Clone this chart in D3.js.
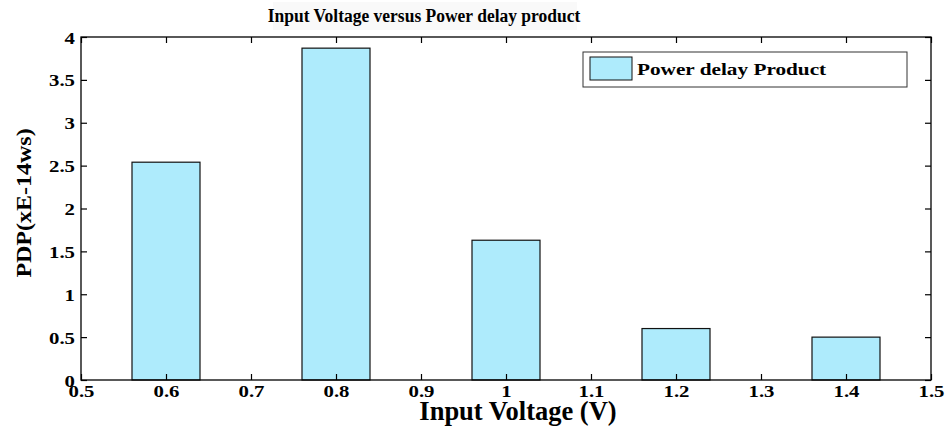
<!DOCTYPE html>
<html><head><meta charset="utf-8">
<script src="https://cdn.jsdelivr.net/npm/d3@7"></script>
<style>body{margin:0;background:#fff}svg{display:block}text{font-family:"Liberation Serif","Times New Roman",serif;font-weight:bold}</style>
</head><body><svg id="c" width="948" height="434"></svg>
<script>
const categories = [0.6, 0.8, 1.0, 1.2, 1.4];
const pdpValues = [2.54, 3.87, 1.63, 0.60, 0.50];
const xTicks = [0.5, 0.6, 0.7, 0.8, 0.9, 1, 1.1, 1.2, 1.3, 1.4, 1.5];
const yTicks = [0, 0.5, 1, 1.5, 2, 2.5, 3, 3.5, 4];
const seriesName = "Power delay Product";
const title = "Input Voltage versus Power delay product";

const svg = d3.select("#c");
const L = 81, R = 931, T = 37, B = 380;
const x = d3.scaleLinear().domain([0.5, 1.5]).range([L, R]);
const y = d3.scaleLinear().domain([0, 4]).range([B, T]);
const barW = 0.08;
const fill = "#aeebfc";

// bars
svg.append("g").selectAll("rect").data(categories).join("rect")
  .attr("x", d => x(d - barW/2)).attr("width", d => x(d + barW/2) - x(d - barW/2))
  .attr("y", (d,i) => y(pdpValues[i])).attr("height", (d,i) => y(0) - y(pdpValues[i]))
  .attr("fill", fill).attr("stroke", "#111").attr("stroke-width", 1.2);

// axes
const fmt = d => String(d);
const ax = (g, axis) => { g.call(axis); g.select(".domain").remove(); g.selectAll(".tick line").attr("stroke","#000").attr("stroke-width",1.2); };
svg.append("g").attr("transform", `translate(0,${B})`)
  .call(g => ax(g, d3.axisBottom(x).tickValues(xTicks).tickFormat(fmt).tickSizeInner(-6)))
  .selectAll("text").attr("font-size", 16).attr("fill","#000")
  .attr("y", 17).attr("dy", 0).attr("transform", "scale(1.3,1)");
svg.append("g").attr("transform", `translate(0,${T})`).call(g => ax(g, d3.axisTop(x).tickValues(xTicks).tickFormat("").tickSizeInner(-6)));
svg.append("g").attr("transform", `translate(${L},0)`)
  .call(g => ax(g, d3.axisLeft(y).tickValues(yTicks).tickFormat(fmt).tickSizeInner(-6)))
  .selectAll("text").attr("font-size", 16).attr("fill","#000")
  .attr("x", -6/1.3).attr("y", 6).attr("dy", 0).attr("transform", "scale(1.3,1)");
svg.append("g").attr("transform", `translate(${R},0)`).call(g => ax(g, d3.axisRight(y).tickValues(yTicks).tickFormat("").tickSizeInner(-6)));

// frame
svg.append("rect").attr("x", L).attr("y", T).attr("width", R-L).attr("height", B-T)
  .attr("fill","none").attr("stroke","#000").attr("stroke-width",1.3);

// legend
const lg = svg.append("g");
lg.append("rect").attr("x", 583).attr("y", 52).attr("width", 324).attr("height", 35)
  .attr("fill","#fff").attr("stroke","#333").attr("stroke-width",1);
lg.append("rect").attr("x", 590).attr("y", 57).attr("width", 42).attr("height", 23)
  .attr("fill",fill).attr("stroke","#111").attr("stroke-width",1);
lg.append("text").attr("transform", "translate(637,75) scale(1.25,1)").attr("font-size", 17).text(seriesName);

// title
svg.append("rect").attr("x", 273).attr("y", 2).attr("width", 304).attr("height", 28).attr("fill","#f9f9f9");
svg.append("text").attr("transform", "translate(424,22) scale(1,1.1)").attr("text-anchor","middle").attr("font-size", 17.5).text(title);

// axis labels
svg.append("text").attr("x", 518).attr("y", 420).attr("text-anchor","middle").attr("font-size", 26.5).text("Input Voltage (V)");
svg.append("text").attr("transform", "translate(31,203) rotate(-90) scale(1.2,1)").attr("text-anchor","middle").attr("font-size", 20).text("PDP(xE-14ws)");
</script></body></html>
